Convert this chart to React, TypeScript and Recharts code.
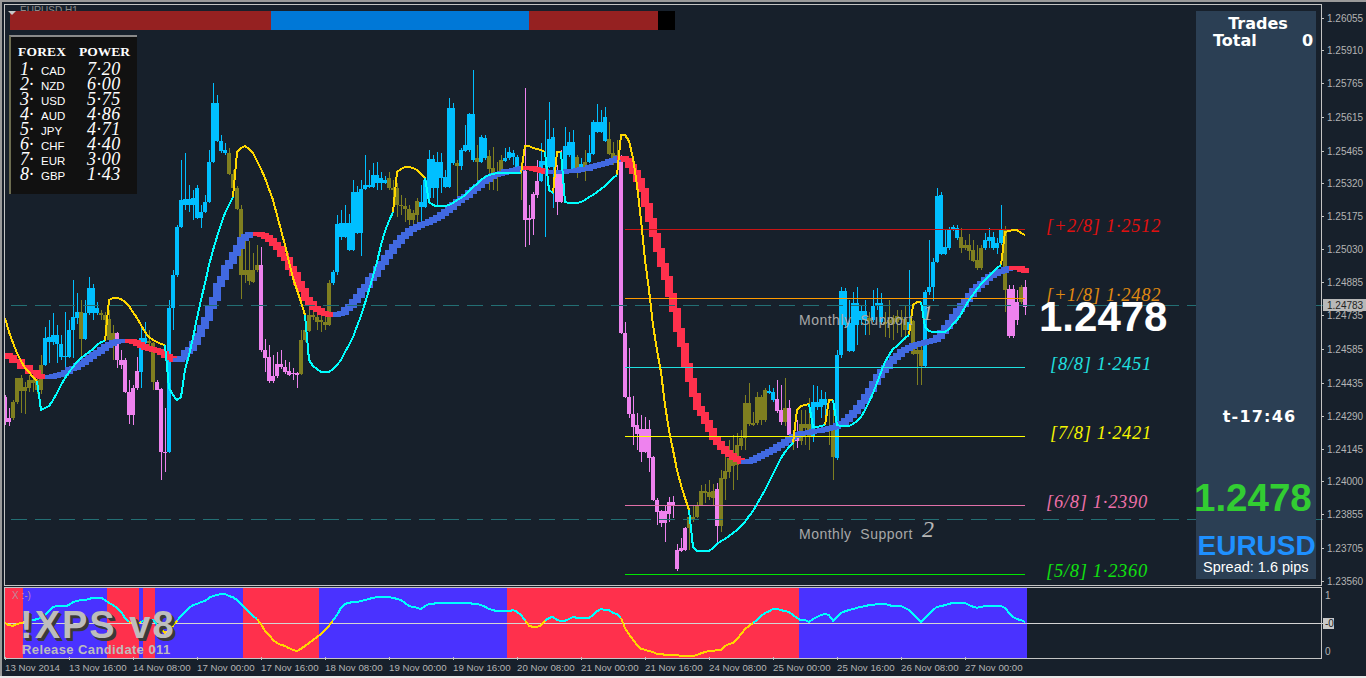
import { Bar, Cell, ComposedChart, Line, ReferenceDot, ReferenceLine, XAxis, YAxis } from 'recharts';

// prices are stored as points above 1.20000, so 4376 means 1.24376
const bodyHigh = [
  4376, 4282, 4353, 4460, 4460, 4420, 4451, 4451, 4451, 4517, 4637, 4641, 4650, 4650, 4610, 4558, 4673, 4730, 4752, 4752,
  4748, 4859, 4859, 4770, 4748, 4739, 4721, 4659, 4659, 4540, 4540, 4398, 4416, 4491, 4637, 4637, 4624, 4615, 4442, 4411,
  4132, 4770, 4916, 5129, 5249, 5253, 5253, 5258, 5302, 5195, 5240, 5417, 5679, 5679, 5510, 5470, 5457, 5364, 5302, 5208,
  4938, 4938, 4938, 4960, 4960, 4584, 4553, 4469, 4522, 4522, 4509, 4491, 4482, 4482, 4628, 4673, 4739, 4739, 4730, 4717,
  4708, 4880, 4929, 5142, 5147, 5147, 5147, 5284, 5284, 5297, 5315, 5315, 5359, 5359, 5346, 5337, 5346, 5302, 5302, 5226,
  5222, 5208, 5191, 5244, 5240, 5337, 5430, 5430, 5417, 5417, 5351, 5657, 5657, 5413, 5470, 5492, 5630, 5630, 5435, 5528,
  5523, 5444, 5391, 5373, 5426, 5435, 5461, 5457, 5440, 5391, 5378, 5169, 5275, 5333, 5422, 5422, 5519, 5528, 5368, 5368,
  5488, 5506, 5506, 5440, 5408, 5417, 5457, 5594, 5594, 5594, 5617, 5519, 5457, 5448, 5435, 4659, 4376, 4300, 4252, 4234,
  4234, 4234, 4109, 3919, 3870, 3870, 3910, 3910, 3697, 3706, 3795, 3844, 3844, 3897, 3959, 3959, 3954, 3959, 3968, 4016,
  4048, 4105, 4105, 4163, 4194, 4349, 4349, 4260, 4376, 4376, 4407, 4402, 4398, 4367, 4318, 4327, 4327, 4207, 4207, 4256,
  4256, 4256, 4353, 4353, 4367, 4367, 4238, 4238, 4562, 4845, 4845, 4704, 4792, 4792, 4757, 4757, 4726, 4779, 4792, 4792,
  4708, 4717, 4726, 4735, 4730, 4721, 4708, 4713, 4584, 4584, 4841, 4863, 4974, 5266, 5271, 5040, 5120, 5129, 5125, 5085,
  5049, 5049, 5027, 4983, 5036, 5071, 5085, 5085, 5058, 5120, 5120, 4854, 4854, 4797, 4863, 4863,
];
const bodyLow = [
  4265, 4265, 4282, 4353, 4402, 4402, 4416, 4438, 4407, 4407, 4517, 4619, 4619, 4610, 4553, 4553, 4553, 4673, 4726, 4632,
  4632, 4748, 4748, 4748, 4739, 4717, 4628, 4619, 4540, 4517, 4398, 4296, 4296, 4416, 4486, 4615, 4615, 4442, 4407, 4132,
  4127, 4132, 4770, 4916, 5129, 5226, 5226, 5226, 5169, 5169, 5195, 5240, 5417, 5510, 5466, 5457, 5364, 5302, 5208, 4916,
  4916, 4889, 4885, 4938, 4584, 4549, 4447, 4447, 4469, 4509, 4486, 4473, 4477, 4473, 4477, 4628, 4668, 4730, 4708, 4708,
  4695, 4695, 4880, 4929, 5085, 5085, 5027, 5027, 5103, 5103, 5297, 5306, 5306, 5324, 5324, 5324, 5302, 5293, 5226, 5222,
  5208, 5160, 5160, 5182, 5218, 5218, 5258, 5302, 5302, 5346, 5306, 5306, 5413, 5399, 5399, 5466, 5470, 5426, 5417, 5417,
  5435, 5386, 5369, 5364, 5373, 5422, 5435, 5440, 5391, 5378, 5160, 5160, 5165, 5271, 5333, 5404, 5395, 5395, 5240, 5240,
  5368, 5448, 5382, 5377, 5377, 5395, 5417, 5453, 5550, 5550, 5510, 5453, 5435, 5435, 4659, 4376, 4300, 4243, 4212, 4132,
  4132, 4105, 3919, 3866, 3817, 3817, 3857, 3897, 3613, 3693, 3697, 3795, 3835, 3844, 3897, 3950, 3932, 3928, 3804, 3804,
  4012, 4043, 4070, 4074, 4159, 4194, 4256, 4252, 4260, 4274, 4274, 4393, 4362, 4314, 4265, 4265, 4207, 4176, 4181, 4181,
  4238, 4198, 4203, 4331, 4331, 4340, 4229, 4109, 4105, 4562, 4695, 4579, 4579, 4695, 4717, 4717, 4713, 4717, 4779, 4708,
  4699, 4704, 4699, 4708, 4717, 4673, 4673, 4566, 4566, 4513, 4513, 4841, 4863, 4974, 5009, 5009, 5036, 5116, 5080, 5036,
  5036, 5023, 4978, 4947, 4947, 5036, 5067, 5036, 5036, 5058, 4850, 4646, 4646, 4717, 4797, 4775,
];
const highs = [
  4385, 4327, 4362, 4460, 4473, 4442, 4473, 4464, 4469, 4562, 4686, 4717, 4748, 4695, 4650, 4752, 4717, 4894, 4837, 4806,
  4806, 4907, 4876, 4797, 4761, 4752, 4761, 4695, 4664, 4584, 4549, 4451, 4429, 4553, 4681, 4708, 4673, 4619, 4451, 4416,
  4327, 4806, 4938, 5138, 5426, 5457, 5315, 5293, 5315, 5226, 5271, 5470, 5767, 5714, 5537, 5501, 5479, 5382, 5311, 5226,
  5071, 5067, 5014, 5049, 5040, 4632, 4606, 4562, 4575, 4584, 4540, 4531, 4504, 4486, 4673, 4708, 4761, 4770, 4752, 4752,
  4739, 4894, 4938, 5182, 5204, 5226, 5187, 5337, 5311, 5337, 5448, 5382, 5413, 5417, 5373, 5355, 5373, 5337, 5324, 5271,
  5258, 5226, 5204, 5258, 5315, 5346, 5470, 5448, 5461, 5457, 5382, 5701, 5679, 5426, 5479, 5581, 5634, 5825, 5492, 5537,
  5537, 5470, 5484, 5417, 5448, 5479, 5484, 5470, 5448, 5417, 5745, 5226, 5284, 5426, 5501, 5603, 5683, 5568, 5404, 5470,
  5572, 5550, 5559, 5448, 5435, 5470, 5537, 5603, 5674, 5648, 5661, 5594, 5506, 5515, 5448, 4708, 4593, 4380, 4305, 4296,
  4287, 4274, 4114, 3928, 3875, 3897, 3932, 3937, 3724, 3751, 3799, 3875, 3897, 3910, 3985, 3990, 4008, 3990, 3994, 4052,
  4109, 4185, 4207, 4216, 4229, 4384, 4438, 4309, 4398, 4384, 4416, 4429, 4416, 4451, 4429, 4460, 4362, 4229, 4274, 4318,
  4318, 4371, 4429, 4424, 4407, 4398, 4318, 4362, 4584, 4863, 4859, 4806, 4841, 4863, 4783, 4806, 4752, 4850, 4859, 4837,
  4752, 4806, 4739, 4761, 4761, 4783, 4938, 4717, 4606, 4628, 4850, 5071, 4991, 5302, 5284, 5116, 5129, 5138, 5138, 5125,
  5071, 5098, 5071, 5049, 5049, 5103, 5125, 5107, 5080, 5226, 5133, 4872, 4872, 4850, 4872, 4894,
];
const lows = [
  4252, 4247, 4274, 4345, 4305, 4300, 4398, 4398, 4389, 4389, 4513, 4526, 4606, 4526, 4540, 4504, 4549, 4549, 4699, 4549,
  4628, 4739, 4717, 4739, 4717, 4695, 4606, 4540, 4504, 4500, 4393, 4256, 4252, 4407, 4416, 4606, 4593, 4407, 4407, 4008,
  4043, 4127, 4673, 4907, 5125, 5204, 5195, 5160, 5165, 5125, 5191, 5235, 5413, 5506, 5457, 5448, 5360, 5293, 5204, 4810,
  4880, 4872, 4880, 4929, 4575, 4486, 4438, 4438, 4460, 4500, 4477, 4469, 4451, 4416, 4473, 4619, 4664, 4717, 4673, 4664,
  4673, 4691, 4872, 4916, 5071, 5080, 5023, 5023, 5098, 4999, 5293, 5302, 5302, 5293, 5293, 5320, 5293, 5249, 5173, 5182,
  5151, 5138, 5138, 5138, 5125, 5213, 5249, 5258, 5226, 5280, 5302, 5302, 5404, 5249, 5382, 5461, 5461, 5417, 5328, 5413,
  5426, 5293, 5293, 5289, 5360, 5417, 5426, 5404, 5382, 5249, 5040, 5049, 5094, 5258, 5328, 5085, 5391, 5213, 5182, 5235,
  5364, 5440, 5373, 5346, 5373, 5333, 5413, 5448, 5546, 5546, 5506, 5448, 5404, 5360, 4655, 4371, 4283, 4163, 4141, 4087,
  4127, 4043, 3915, 3808, 3799, 3733, 3822, 3840, 3604, 3688, 3693, 3697, 3822, 3840, 3892, 3906, 3919, 3897, 3724, 3777,
  3919, 4017, 3963, 4008, 4141, 4141, 4247, 4247, 4252, 4252, 4265, 4389, 4353, 4305, 4252, 4247, 4194, 4141, 4150, 4163,
  4163, 4141, 4176, 4318, 4283, 4296, 4163, 4008, 4096, 4549, 4686, 4575, 4575, 4606, 4695, 4650, 4650, 4708, 4761, 4695,
  4642, 4637, 4628, 4659, 4642, 4628, 4668, 4562, 4429, 4429, 4509, 4828, 4801, 4970, 5005, 5005, 5027, 5111, 5071, 5014,
  5027, 4983, 4974, 4938, 4938, 5027, 5036, 5027, 5009, 5049, 4752, 4637, 4637, 4695, 4788, 4739,
];
// b = up, p = down, o = against the trend, as [kind, number of bars]
const candleRuns: [string, number][] = [
  ['p', 2], ['o', 8], ['b', 9], ['o', 1], ['b', 4], ['o', 4], ['p', 6], ['b', 2], ['o', 2], ['p', 3], ['b', 15], ['o', 8], ['p', 10],
  ['o', 8], ['b', 14], ['o', 8], ['b', 9], ['o', 1], ['b', 4], ['o', 1], ['b', 2], ['o', 4], ['b', 4], ['o', 1], ['p', 4], ['b', 4],
  ['p', 2], ['b', 3], ['o', 1], ['b', 1], ['o', 1], ['b', 5], ['o', 3], ['p', 17], ['o', 7], ['p', 1], ['o', 12], ['b', 2], ['p', 2],
  ['o', 1], ['p', 1], ['o', 1], ['p', 1], ['o', 3], ['b', 4], ['o', 2], ['b', 8], ['o', 1], ['b', 3], ['o', 6], ['b', 1], ['o', 3],
  ['b', 9], ['o', 6], ['b', 5], ['o', 1], ['p', 3], ['o', 1], ['p', 1],
];

const signal = [
  4726, 4664, 4615, 4571, 4535, 4504, 4486, 4464, 4447, 4318, 4327, 4336, 4362, 4393, 4429, 4460, 4486, 4509, 4531, 4549,
  4562, 4575, 4588, 4606, 4619, 4624, 4806, 4815, 4815, 4810, 4797, 4779, 4752, 4726, 4695, 4664, 4641, 4628, 4619, 4610,
  4606, 4416, 4385, 4362, 4376, 4495, 4562, 4637, 4726, 4806, 4880, 4960, 5027, 5085, 5142, 5191, 5226, 5262, 5461, 5479,
  5488, 5475, 5457, 5422, 5386, 5346, 5297, 5249, 5182, 5116, 5049, 4974, 4903, 4850, 4797, 4739, 4540, 4513, 4500, 4486,
  4486, 4486, 4500, 4517, 4540, 4575, 4606, 4641, 4690, 4735, 4792, 4850, 4912, 4974, 5049, 5111, 5156, 5195, 5373, 5386,
  5395, 5395, 5391, 5382, 5364, 5346, 5240, 5226, 5222, 5222, 5222, 5226, 5235, 5249, 5258, 5271, 5289, 5306, 5320, 5337,
  5351, 5359, 5364, 5368, 5368, 5368, 5368, 5368, 5368, 5368, 5488, 5488, 5479, 5475, 5470, 5461, 5293, 5280, 5461, 5461,
  5240, 5235, 5235, 5235, 5240, 5249, 5262, 5271, 5284, 5297, 5311, 5328, 5346, 5359, 5537, 5537, 5510, 5435, 5315, 5160,
  4983, 4850, 4695, 4584, 4486, 4340, 4229, 4141, 4052, 3985, 3928, 3875, 3711, 3693, 3693, 3693, 3693, 3706, 3724, 3737,
  3746, 3759, 3773, 3786, 3804, 3822, 3848, 3870, 3901, 3932, 3963, 3999, 4034, 4070, 4105, 4132, 4154, 4172, 4318, 4336,
  4340, 4345, 4243, 4243, 4247, 4252, 4362, 4362, 4252, 4247, 4247, 4247, 4256, 4269, 4287, 4318, 4353, 4393, 4438, 4486,
  4531, 4562, 4588, 4602, 4619, 4637, 4650, 4783, 4797, 4797, 4686, 4668, 4664, 4664, 4664, 4664, 4677, 4699, 4717, 4743,
  4774, 4806, 4828, 4854, 4876, 4894, 4912, 4929, 4947, 4960, 5107, 5111, 5116, 5116, 5102, 5094,
];
const signalGoldRanges = [[0, 8], [25, 40], [57, 75], [97, 105], [129, 135], [137, 139], [153, 171], [197, 201], [205, 207], [226, 229], [249, 255]];
const signalCyanRanges = [[8, 25], [40, 57], [75, 97], [105, 129], [135, 137], [139, 153], [171, 197], [201, 205], [207, 226], [229, 249]];

const ribbon = [
  4562, 4553, 4535, 4535, 4509, 4509, 4486, 4486, 4469, 4464, 4464, 4464, 4469, 4473, 4477, 4486, 4500, 4504, 4517, 4526,
  4540, 4553, 4566, 4575, 4588, 4602, 4610, 4619, 4624, 4624, 4624, 4624, 4619, 4610, 4602, 4593, 4588, 4584, 4579, 4571,
  4558, 4549, 4540, 4540, 4549, 4575, 4588, 4615, 4650, 4686, 4721, 4774, 4810, 4872, 4903, 4952, 4974, 5009, 5040, 5076,
  5089, 5098, 5098, 5098, 5094, 5085, 5071, 5054, 5036, 5005, 4987, 4947, 4921, 4881, 4850, 4810, 4792, 4770, 4761, 4748,
  4743, 4739, 4739, 4743, 4748, 4766, 4779, 4801, 4823, 4850, 4867, 4898, 4916, 4947, 4969, 4996, 5018, 5045, 5063, 5085,
  5098, 5116, 5125, 5133, 5142, 5147, 5156, 5164, 5173, 5187, 5200, 5213, 5231, 5244, 5258, 5266, 5284, 5297, 5311, 5328,
  5337, 5351, 5359, 5364, 5368, 5377, 5377, 5382, 5386, 5391, 5391, 5391, 5386, 5382, 5377, 5373, 5373, 5373, 5373, 5373,
  5377, 5377, 5377, 5382, 5386, 5386, 5395, 5399, 5404, 5408, 5413, 5422, 5426, 5435, 5435, 5426, 5399, 5373, 5337, 5293,
  5226, 5160, 5094, 5027, 4960, 4903, 4828, 4761, 4673, 4606, 4517, 4451, 4385, 4327, 4300, 4265, 4229, 4194, 4172, 4150,
  4132, 4119, 4105, 4096, 4088, 4088, 4092, 4101, 4110, 4119, 4127, 4136, 4145, 4159, 4167, 4181, 4194, 4203, 4212, 4216,
  4216, 4220, 4225, 4225, 4229, 4234, 4238, 4243, 4252, 4260, 4274, 4291, 4309, 4331, 4353, 4380, 4407, 4438, 4469, 4491,
  4509, 4531, 4549, 4562, 4579, 4588, 4597, 4606, 4610, 4615, 4619, 4624, 4628, 4641, 4664, 4686, 4708, 4735, 4761, 4783,
  4806, 4828, 4850, 4867, 4881, 4898, 4912, 4921, 4929, 4934, 4943, 4947, 4947, 4947, 4938, 4934,
];
const ribbonRedRanges = [[0, 10], [31, 42], [63, 82], [130, 135], [154, 184], [252, 255]];

const oscillator = [
  0.5, 0.46, 0.45, 0.48, 0.5, 0.52, 0.54, 0.55, 0.57, 0.59, 0.64, 0.71, 0.79, 0.8, 0.8, 0.8, 0.82, 0.875, 0.89, 0.91,
  0.91, 0.93, 0.95, 0.95, 0.95, 0.91, 0.86, 0.82, 0.77, 0.7, 0.59, 0.52, 0.48, 0.48, 0.52, 0.54, 0.55, 0.55, 0.48, 0.39,
  0.32, 0.375, 0.45, 0.54, 0.625, 0.7, 0.77, 0.82, 0.84, 0.875, 0.89, 0.95, 0.98, 1, 1.02, 1.02, 0.98, 0.96, 0.91, 0.84,
  0.77, 0.7, 0.625, 0.57, 0.48, 0.36, 0.29, 0.2, 0.14, 0.11, 0.09, 0.05, 0.02, 0, 0.04, 0.09, 0.14, 0.2, 0.25, 0.3,
  0.375, 0.45, 0.55, 0.64, 0.77, 0.84, 0.86, 0.875, 0.875, 0.89, 0.91, 0.93, 0.95, 0.96, 0.96, 0.96, 0.96, 0.95, 0.93, 0.91,
  0.86, 0.8, 0.79, 0.77, 0.75, 0.8, 0.84, 0.84, 0.86, 0.86, 0.86, 0.86, 0.86, 0.86, 0.86, 0.86, 0.86, 0.84, 0.84, 0.82,
  0.79, 0.75, 0.73, 0.71, 0.71, 0.71, 0.71, 0.73, 0.7, 0.64, 0.55, 0.45, 0.43, 0.43, 0.46, 0.54, 0.59, 0.61, 0.55, 0.54,
  0.54, 0.57, 0.61, 0.59, 0.59, 0.59, 0.59, 0.64, 0.71, 0.75, 0.73, 0.73, 0.68, 0.66, 0.59, 0.41, 0.3, 0.2, 0.11, 0.04,
  0.02, 0, -0.02, -0.05, -0.05, -0.07, -0.07, -0.07, -0.07, -0.09, -0.09, -0.09, -0.09, -0.07, -0.04, -0.02, 0, 0, 0.02, 0.02,
  0.09, 0.125, 0.14, 0.21, 0.3, 0.39, 0.45, 0.5, 0.55, 0.625, 0.68, 0.71, 0.75, 0.75, 0.73, 0.71, 0.7, 0.64, 0.59, 0.55,
  0.55, 0.52, 0.57, 0.61, 0.64, 0.66, 0.64, 0.54, 0.61, 0.68, 0.71, 0.73, 0.75, 0.77, 0.79, 0.8, 0.82, 0.82, 0.84, 0.84,
  0.84, 0.82, 0.8, 0.8, 0.8, 0.77, 0.73, 0.66, 0.59, 0.52, 0.59, 0.66, 0.73, 0.79, 0.8, 0.82, 0.84, 0.86, 0.86, 0.86,
  0.86, 0.82, 0.79, 0.77, 0.79, 0.8, 0.8, 0.8, 0.8, 0.8, 0.77, 0.68, 0.61, 0.57, 0.55, 0.52,
];
const oscGoldRanges = [[0, 5], [31, 34], [38, 43], [63, 82], [130, 135], [154, 187]];
const oscCyanRanges = [[5, 31], [34, 38], [43, 63], [82, 130], [135, 154], [187, 255]];
const regimeRedRanges = [[0, 4], [26, 33], [35, 37], [60, 78], [126, 198]];

const priceTicks = [
  1.26055, 1.2591, 1.25765, 1.25615, 1.25465, 1.2532, 1.25175, 1.2503, 1.24885, 1.24783, 1.24735, 1.24585, 1.24435, 1.2429,
  1.24145, 1.24, 1.23855, 1.23705, 1.2356,
];
const lastPrice = 1.24783;
const supportPrices = [1.24781, 1.23833];
const timeTickBars = [0, 16, 32, 48, 64, 80, 96, 112, 128, 144, 160, 176, 192, 208, 224, 240];
const timeLabels = [
  '13 Nov 2014', '13 Nov 16:00', '14 Nov 08:00', '17 Nov 00:00', '17 Nov 16:00', '18 Nov 08:00', '19 Nov 00:00', '19 Nov 16:00',
  '20 Nov 08:00', '21 Nov 00:00', '21 Nov 16:00', '24 Nov 08:00', '25 Nov 00:00', '25 Nov 16:00', '26 Nov 08:00', '27 Nov 00:00',
];
const murreyNames = ['[+2/8] 1·2512', '[+1/8] 1·2482', '[8/8] 1·2451', '[7/8] 1·2421', '[6/8] 1·2390', '[5/8] 1·2360'];
const murreyPrices = [1.25118, 1.24812, 1.24506, 1.24201, 1.23895, 1.23589];
const murreyColors = ['#c81414', '#ff9a00', '#1fe0e0', '#ffff00', '#e070a8', '#00e600'];
const murreyLabelColors = ['#e01010', '#e08a10', '#20e0e0', '#f5f500', '#ee70a8', '#10e010'];
const murreyLabelBars = [259, 259, 260, 260, 259, 259];
const powerCurrencies = ['CAD', 'NZD', 'USD', 'AUD', 'JPY', 'CHF', 'EUR', 'GBP'];
const powerValues = ['7·20', '6·00', '5·75', '4·86', '4·71', '4·40', '3·00', '1·43'];
const topBar = [
  { w: 261, c: '#952121' },
  { w: 258, c: '#0078d7' },
  { w: 129, c: '#952121' },
  { w: 17, c: '#000000' },
];

const BG = '#17202b';
const FRAME = '#c4c4c4';
const AXIS_FONT = '"Liberation Sans", sans-serif';
const SCRIPT_FONT = '"Liberation Serif", serif';
const candleColors: Record<string, string> = { b: '#00bfff', p: '#ee82ee', o: '#7f7f20' };
const toPrice = (points: number) => 1.2 + points / 100000;
const inRanges = (i: number, ranges: number[][]) => ranges.some(([a, b]) => i >= a && i <= b);

const kinds = candleRuns.flatMap(([k, n]) => Array(n).fill(k));
const TOTAL_ROWS = 330;
const RIBBON_HALF = 8; // half thickness of the ribbon, in points

const rows = Array.from({ length: TOTAL_ROWS }, (_, i) => {
  if (i >= bodyHigh.length) return { i };
  const prevRibbon = ribbon[Math.max(i - 1, 0)];
  return {
    i,
    range: [toPrice(lows[i]), toPrice(highs[i])],
    top: toPrice(bodyHigh[i]),
    bottom: toPrice(bodyLow[i]),
    kind: kinds[i],
    gold: inRanges(i, signalGoldRanges) ? toPrice(signal[i]) : null,
    cyan: inRanges(i, signalCyanRanges) ? toPrice(signal[i]) : null,
    ribbonBand: [toPrice(Math.min(prevRibbon, ribbon[i]) - RIBBON_HALF), toPrice(Math.max(prevRibbon, ribbon[i]) + RIBBON_HALF)],
    ribbonFill: inRanges(i, ribbonRedRanges) ? '#ff304c' : '#4169e1',
  };
});

const oscRows = Array.from({ length: TOTAL_ROWS }, (_, i) => {
  if (i >= oscillator.length) return { i };
  return {
    i,
    band: [-0.125, 1.125],
    gold: inRanges(i, oscGoldRanges) ? oscillator[i] : null,
    cyan: inRanges(i, oscCyanRanges) ? oscillator[i] : null,
  };
});

const Candle = (props: any) => {
  const { x, y, height, payload } = props;
  if (!payload.range) return null;
  const [lo, hi] = payload.range;
  const perUnit = height / (hi - lo);
  const bodyY = y + (hi - payload.top) * perUnit;
  const bodyH = Math.max((payload.top - payload.bottom) * perUnit, 1);
  const color = candleColors[payload.kind];
  return (
    <g>
      <rect x={x + 2} y={y} width={1} height={height} fill={color} />
      <rect x={x} y={bodyY} width={4} height={bodyH} fill={color} />
    </g>
  );
};

// the ribbon pen is twice as wide as a bar, which gives the stair look
const RibbonBlock = (props: any) => {
  const { x, y, height, payload } = props;
  if (!payload.ribbonBand) return null;
  return <rect x={x - 2} y={y} width={8} height={height} fill={payload.ribbonFill} />;
};

const PriceTick = ({ x, y, payload }: any) => {
  const isLast = payload.value === lastPrice;
  return (
    <g>
      {isLast && <rect x={x} y={y - 6} width={43} height={12} fill="#b8b8b8" />}
      {!isLast && <line x1={x - 2} x2={x + 1} y1={y} y2={y} stroke={FRAME} />}
      <text x={x + 4} y={y + 3.5} fontSize={10} fontFamily={AXIS_FONT} fill={isLast ? '#222' : '#b4b4b4'}>
        {payload.value.toFixed(5)}
      </text>
    </g>
  );
};

const oscLabels: Record<number, string> = { 1: '1', 0.5: '-0', 0: '0' };
const OscTick = ({ x, y, payload }: any) => (
  <g>
    {payload.value === 0.5 && <rect x={x} y={y - 5} width={11} height={11} fill="#c8c8c8" />}
    <text x={x + 2} y={y + 3.5} fontSize={10} fontFamily={AXIS_FONT} fill={payload.value === 0.5 ? '#222' : '#b4b4b4'}>
      {oscLabels[payload.value]}
    </text>
  </g>
);

const TimeTick = ({ x, y, payload }: any) => (
  <g>
    <line x1={x} x2={x} y1={y - 9} y2={y - 6} stroke={FRAME} />
    <text x={x} y={y + 5} fontSize={9.7} fontFamily={AXIS_FONT} fill="#b4b4b4">
      {timeLabels[timeTickBars.indexOf(payload.value)]}
    </text>
  </g>
);

const abs = (left: number, top: number, extra: any = {}) => ({ position: 'absolute', left, top, ...extra } as any);

const PowerBox = () => (
  <div style={abs(9, 35, { width: 126, height: 157, background: '#111', borderTop: '2px solid #8a8a8a', borderLeft: '2px solid #6d6d50', color: '#fff' })}>
    <div style={abs(7, 7, { font: 'bold 13.5px "Liberation Serif", serif', whiteSpace: 'nowrap', letterSpacing: 0.2 })}>FOREX</div>
    <div style={abs(68, 7, { font: 'bold 13.5px "Liberation Serif", serif', whiteSpace: 'nowrap' })}>POWER</div>
    {powerCurrencies.map((c, k) => (
      <div key={c}>
        <div style={abs(9, 22 + k * 15, { font: `italic 18px ${SCRIPT_FONT}` })}>{k + 1}·</div>
        <div style={abs(30, 28 + k * 15, { font: `11.5px ${AXIS_FONT}` })}>{c}</div>
        <div style={abs(76, 22 + k * 15, { font: `italic 18px ${SCRIPT_FONT}`, letterSpacing: 0.6 })}>{powerValues[k]}</div>
      </div>
    ))}
  </div>
);

const SidePanel = () => (
  <div style={abs(1196, 11, { width: 120, height: 568, background: '#2b3f54', color: '#fff' })}>
    <div style={abs(0, 3, { width: 124, textAlign: 'center', font: 'bold 16px "DejaVu Sans", sans-serif' })}>Trades</div>
    <div style={abs(17, 20, { font: 'bold 16px "DejaVu Sans", sans-serif' })}>Total</div>
    <div style={abs(106, 20, { font: 'bold 16px "DejaVu Sans", sans-serif' })}>0</div>
    <div style={abs(0, 396, { width: 127, textAlign: 'center', font: 'bold 16px "DejaVu Sans", sans-serif', letterSpacing: 1.2 })}>t-17:46</div>
    <div style={abs(-2, 465, { font: `bold 38.5px ${AXIS_FONT}`, color: '#32cd32' })}>1.2478</div>
    <div style={abs(1.5, 519, { font: `bold 28px ${AXIS_FONT}`, color: '#1e90ff' })}>EURUSD</div>
    <div style={abs(7, 548, { font: `14.5px ${AXIS_FONT}`, whiteSpace: 'nowrap' })}>Spread: 1.6 pips</div>
  </div>
);

const App = () => {
  return (
    <div style={abs(0, 0, { width: 1366, height: 678, background: BG, overflow: 'hidden', shapeRendering: 'crispEdges' })}>
      <div style={abs(0, 0)}>
        <ComposedChart width={1366} height={594} data={rows} margin={{ top: 5, right: 0, bottom: 10, left: 3 }} barCategoryGap={0} barGap={0}>
          <XAxis dataKey="i" hide type="category" />
          <XAxis xAxisId="ribbon" dataKey="i" hide type="category" />
          <YAxis
            orientation="right"
            width={43}
            type="number"
            domain={[1.23547, 1.26113]}
            ticks={priceTicks}
            interval={0}
            axisLine={false}
            tickLine={false}
            tickSize={0}
            tickMargin={0}
            tick={<PriceTick />}
            allowDataOverflow
          />
          {supportPrices.map((p) => (
            <ReferenceLine key={p} y={p} stroke="#236f74" strokeDasharray="16 8" />
          ))}
          <ReferenceDot
            x={198}
            y={1.24716}
            r={0}
            label={{ value: 'Monthly\u00a0\u00a0Support', position: 'right', offset: 2, fill: '#a8a8a8', fontSize: 14, fontFamily: AXIS_FONT, letterSpacing: 0.5 }}
          />
          <ReferenceDot x={228} y={1.2475} r={0} label={{ value: '1', position: 'right', fill: '#b8b8b8', fontSize: 22, fontStyle: 'italic', fontFamily: SCRIPT_FONT }} />
          <ReferenceDot
            x={198}
            y={1.23769}
            r={0}
            label={{ value: 'Monthly\u00a0\u00a0Support', position: 'right', offset: 2, fill: '#a8a8a8', fontSize: 14, fontFamily: AXIS_FONT, letterSpacing: 0.5 }}
          />
          <ReferenceDot x={228} y={1.23792} r={0} label={{ value: '2', position: 'right', fill: '#b8b8b8', fontSize: 24, fontStyle: 'italic', fontFamily: SCRIPT_FONT }} />
          {murreyPrices.map((p, k) => (
            <ReferenceLine
              key={p}
              segment={[
                { x: 155, y: p },
                { x: 255, y: p },
              ]}
              stroke={murreyColors[k]}
            />
          ))}
          <Bar dataKey="range" barSize={4} shape={<Candle />} isAnimationActive={false} />
          <Bar dataKey="ribbonBand" xAxisId="ribbon" barSize={4} shape={<RibbonBlock />} isAnimationActive={false} />
          <Line dataKey="gold" type="linear" stroke="#ffd700" strokeWidth={2} dot={false} connectNulls={false} isAnimationActive={false} />
          <Line dataKey="cyan" type="linear" stroke="#00ffff" strokeWidth={2} dot={false} connectNulls={false} isAnimationActive={false} />
          {murreyNames.map((name, k) => (
            <ReferenceDot
              key={name}
              x={murreyLabelBars[k]}
              y={murreyPrices[k] + 0.00018}
              r={0}
              label={{ value: name, position: 'right', fill: murreyLabelColors[k], fontSize: 18.5, fontStyle: 'italic', fontFamily: SCRIPT_FONT, letterSpacing: 0.7 }}
            />
          ))}
          <ReferenceDot x={258} y={1.24734} r={0} label={{ value: '1.2478', position: 'right', offset: 2, fill: '#ffffff', fontSize: 42, fontWeight: 700, fontFamily: AXIS_FONT }} />
        </ComposedChart>
      </div>

      <div style={abs(0, 588)}>
        <ComposedChart width={1366} height={90} data={oscRows} margin={{ top: 0, right: 0, bottom: 0, left: 3 }} barCategoryGap={0} barGap={0}>
          <XAxis dataKey="i" type="category" height={20} ticks={timeTickBars} interval={0} axisLine={false} tickLine={false} tick={<TimeTick />} />
          <YAxis
            orientation="right"
            width={43}
            type="number"
            domain={[-0.125, 1.125]}
            ticks={[1, 0.5, 0]}
            interval={0}
            axisLine={false}
            tickLine={false}
            tickSize={0}
            tickMargin={0}
            tick={<OscTick />}
            allowDataOverflow
          />
          <Bar dataKey="band" barSize={4} isAnimationActive={false}>
            {oscRows.map((r) => (
              <Cell key={r.i} fill={inRanges(r.i, regimeRedRanges) ? '#ff304c' : '#4a32ff'} />
            ))}
          </Bar>
          <ReferenceLine y={0.5} stroke="#d4d4d4" />
          <Line dataKey="gold" stroke="#ffd700" strokeWidth={2} dot={false} connectNulls={false} isAnimationActive={false} />
          <Line dataKey="cyan" stroke="#00ffff" strokeWidth={2} dot={false} connectNulls={false} isAnimationActive={false} />
        </ComposedChart>
      </div>

      {/* left gutter hides the part of the first bar outside the frame */}
      <div style={abs(0, 0, { width: 4, height: 678, background: BG })} />
      <div style={abs(0, 0, { width: 2, height: 678, background: '#9a9a9a' })} />
      <div style={abs(0, 0, { width: 1366, height: 2, background: '#9a9a9a' })} />
      <div style={abs(0, 676, { width: 1366, height: 2, background: '#e8e8e8' })} />
      <div style={abs(4, 4, { width: 1316, height: 580, border: `1px solid ${FRAME}` })} />
      <div style={abs(4, 587, { width: 1316, height: 70, border: `1px solid ${FRAME}` })} />

      <div style={abs(20, 5, { font: `10px ${AXIS_FONT}`, color: '#8a8a8a' })}>EURUSD,H1</div>
      <div style={abs(10, 11, { display: 'flex', height: 19 })}>
        {topBar.map((s, k) => (
          <div key={k} style={{ width: s.w, background: s.c }} />
        ))}
      </div>
      <div style={abs(8, 11, { width: 0, height: 0, borderLeft: '4px solid transparent', borderRight: '4px solid transparent', borderTop: '4px solid #c8c8c8' })} />
      <PowerBox />
      <SidePanel />

      <div style={abs(12, 590, { font: `10px ${AXIS_FONT}`, color: '#c08a9a' })}>X :-)</div>
      <div
        style={abs(20, 604, {
          font: `bold 38px ${AXIS_FONT}`,
          color: '#bdbdbd',
          letterSpacing: 2,
          whiteSpace: 'nowrap',
          textShadow: '2px 2px 0 #3a3a3a, 3px 3px 0 #3a3a3a',
        })}
      >
        !XPS v8
      </div>
      <div style={abs(22, 642, { font: `bold 13px ${AXIS_FONT}`, color: '#bdbdbd', letterSpacing: 0.4, whiteSpace: 'nowrap' })}>Release Candidate 011</div>
    </div>
  );
};

export default App;
